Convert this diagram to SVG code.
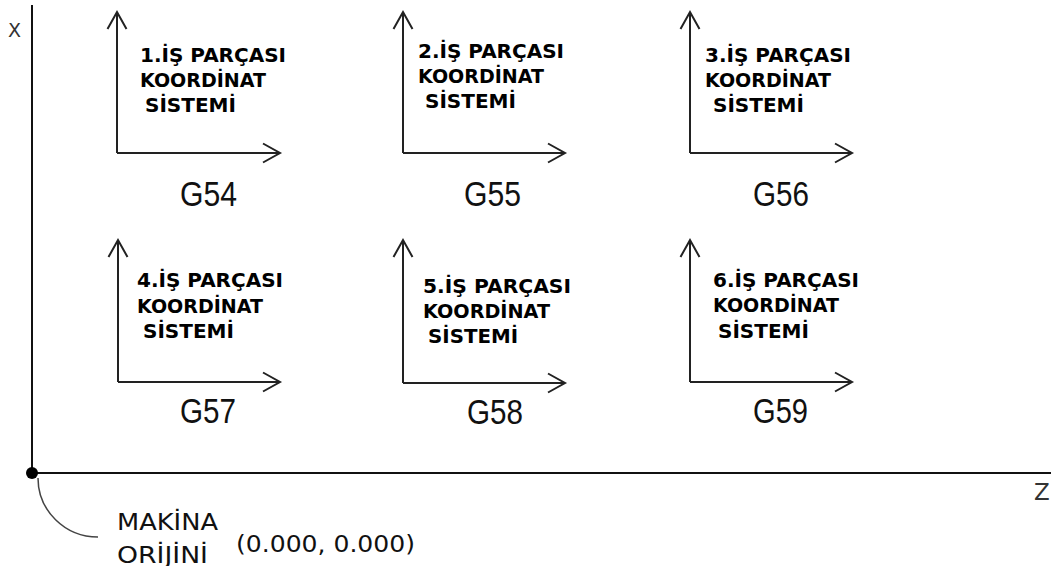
<svg xmlns="http://www.w3.org/2000/svg" width="1051" height="566" viewBox="0 0 1051 566">
<style>
.ax{stroke:#111;stroke-width:2;fill:none}
.sh{stroke:#222;stroke-width:2;fill:none}
.lbl{font-family:"DejaVu Sans",Verdana,sans-serif;font-weight:bold;font-size:20px;fill:#000}
.g{font-family:"Liberation Sans",Arial,sans-serif;font-size:35px;fill:#111}
.txt{font-family:"DejaVu Sans",Verdana,sans-serif;font-size:23px;fill:#111}
</style>
<defs>
<marker id="ah" markerUnits="userSpaceOnUse" markerWidth="24" markerHeight="24" refX="20" refY="12" orient="auto" overflow="visible">
<path d="M3,2.5 L20,12 L3,21.5" fill="none" stroke="#222" stroke-width="2"/>
</marker>
</defs>
<rect width="1051" height="566" fill="#fff"/>
<g id="axes">
<line class="ax" x1="32" y1="5" x2="32" y2="473"/>
<line class="ax" x1="32" y1="473" x2="1051" y2="473"/>
<circle cx="32" cy="473" r="6" fill="#000"/>
<path d="M38,478 A60,59 0 0 0 98,537" fill="none" stroke="#444" stroke-width="1.5"/>
<text x="8" y="37" font-family="DejaVu Sans, sans-serif" font-size="19" fill="#333">X</text>
<text x="1034" y="500" font-family="DejaVu Sans, sans-serif" font-size="23" fill="#333">Z</text>
<text class="txt" x="117" y="530" textLength="101" lengthAdjust="spacingAndGlyphs">MAKİNA</text>
<text class="txt" x="117" y="563" textLength="91" lengthAdjust="spacingAndGlyphs">ORİJİNİ</text>
<text class="txt" x="236" y="552" textLength="179" lengthAdjust="spacingAndGlyphs">(0.000, 0.000)</text>
</g>
<g id="connectors">
<line class="sh" x1="117" y1="153" x2="117" y2="12" marker-end="url(#ah)"/>
<line class="sh" x1="117" y1="153" x2="280" y2="153" marker-end="url(#ah)"/>
<line class="sh" x1="403" y1="153" x2="403" y2="12" marker-end="url(#ah)"/>
<line class="sh" x1="403" y1="153" x2="565" y2="153" marker-end="url(#ah)"/>
<line class="sh" x1="690" y1="153" x2="690" y2="12" marker-end="url(#ah)"/>
<line class="sh" x1="690" y1="153" x2="852" y2="153" marker-end="url(#ah)"/>
<line class="sh" x1="118" y1="382" x2="118" y2="240" marker-end="url(#ah)"/>
<line class="sh" x1="118" y1="382" x2="280" y2="382" marker-end="url(#ah)"/>
<line class="sh" x1="403" y1="383" x2="403" y2="240" marker-end="url(#ah)"/>
<line class="sh" x1="403" y1="383" x2="565" y2="383" marker-end="url(#ah)"/>
<line class="sh" x1="690" y1="382" x2="690" y2="240" marker-end="url(#ah)"/>
<line class="sh" x1="690" y1="382" x2="852" y2="382" marker-end="url(#ah)"/>
</g>
<g id="g54">
<text class="lbl" x="140" y="62" textLength="146" lengthAdjust="spacingAndGlyphs">1.İŞ PARÇASI</text>
<text class="lbl" x="140" y="87" textLength="126" lengthAdjust="spacingAndGlyphs">KOORDİNAT</text>
<text class="lbl" x="145" y="112" textLength="91" lengthAdjust="spacingAndGlyphs">SİSTEMİ</text>
<text class="g" x="180" y="206" textLength="57" lengthAdjust="spacingAndGlyphs">G54</text>
</g>
<g id="g55">
<text class="lbl" x="418" y="58" textLength="146" lengthAdjust="spacingAndGlyphs">2.İŞ PARÇASI</text>
<text class="lbl" x="418" y="83" textLength="126" lengthAdjust="spacingAndGlyphs">KOORDİNAT</text>
<text class="lbl" x="425" y="108" textLength="91" lengthAdjust="spacingAndGlyphs">SİSTEMİ</text>
<text class="g" x="464" y="206" textLength="57" lengthAdjust="spacingAndGlyphs">G55</text>
</g>
<g id="g56">
<text class="lbl" x="705" y="62" textLength="146" lengthAdjust="spacingAndGlyphs">3.İŞ PARÇASI</text>
<text class="lbl" x="705" y="87" textLength="126" lengthAdjust="spacingAndGlyphs">KOORDİNAT</text>
<text class="lbl" x="713" y="112" textLength="91" lengthAdjust="spacingAndGlyphs">SİSTEMİ</text>
<text class="g" x="753" y="206" textLength="56" lengthAdjust="spacingAndGlyphs">G56</text>
</g>
<g id="g57">
<text class="lbl" x="137" y="287" textLength="146" lengthAdjust="spacingAndGlyphs">4.İŞ PARÇASI</text>
<text class="lbl" x="137" y="313" textLength="126" lengthAdjust="spacingAndGlyphs">KOORDİNAT</text>
<text class="lbl" x="143" y="338" textLength="91" lengthAdjust="spacingAndGlyphs">SİSTEMİ</text>
<text class="g" x="180" y="423" textLength="56" lengthAdjust="spacingAndGlyphs">G57</text>
</g>
<g id="g58">
<text class="lbl" x="423" y="293" textLength="148" lengthAdjust="spacingAndGlyphs">5.İŞ PARÇASI</text>
<text class="lbl" x="423" y="318" textLength="127" lengthAdjust="spacingAndGlyphs">KOORDİNAT</text>
<text class="lbl" x="428" y="343" textLength="90" lengthAdjust="spacingAndGlyphs">SİSTEMİ</text>
<text class="g" x="467" y="424" textLength="56" lengthAdjust="spacingAndGlyphs">G58</text>
</g>
<g id="g59">
<text class="lbl" x="713" y="287" textLength="146" lengthAdjust="spacingAndGlyphs">6.İŞ PARÇASI</text>
<text class="lbl" x="713" y="312" textLength="126" lengthAdjust="spacingAndGlyphs">KOORDİNAT</text>
<text class="lbl" x="718" y="338" textLength="91" lengthAdjust="spacingAndGlyphs">SİSTEMİ</text>
<text class="g" x="753" y="423" textLength="55" lengthAdjust="spacingAndGlyphs">G59</text>
</g>
</svg>
